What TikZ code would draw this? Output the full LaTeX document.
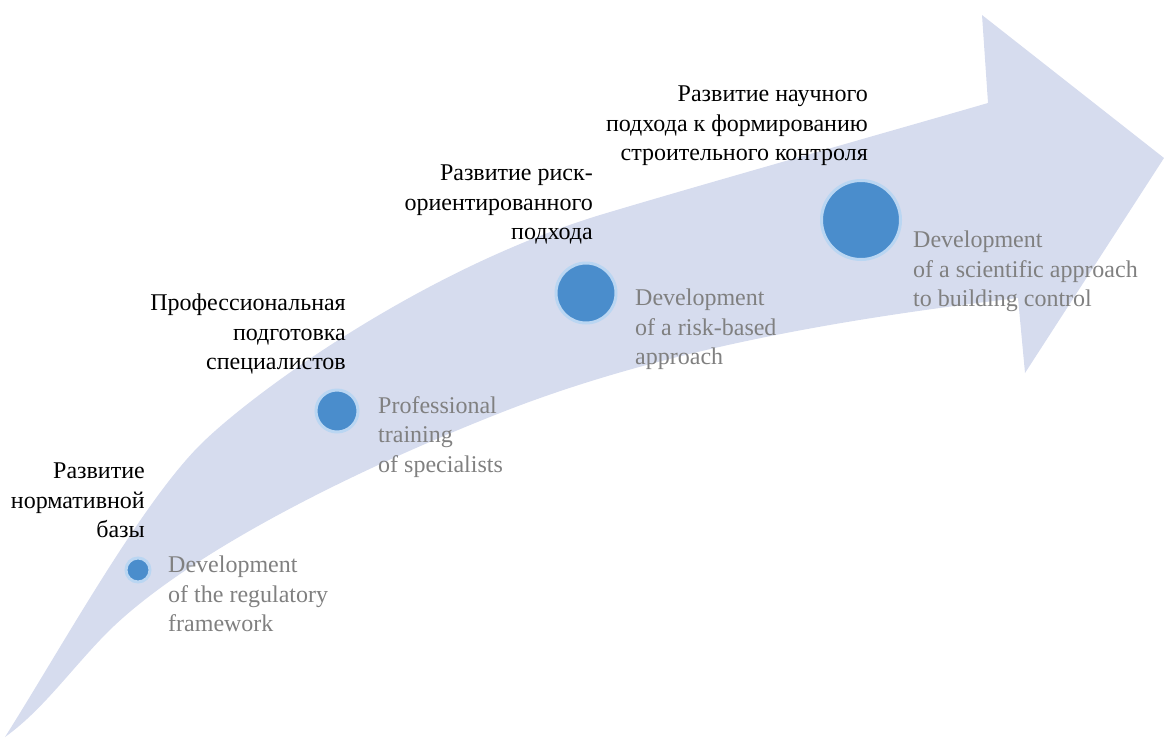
\documentclass[tikz,border=0pt]{standalone}
\usepackage{fontspec}
\setmainfont{Liberation Serif}
\usetikzlibrary{positioning}
\definecolor{bandblue}{RGB}{214,220,238}
\definecolor{dotblue}{RGB}{74,141,204}
\definecolor{haloblue}{RGB}{186,214,242}
\definecolor{enggray}{RGB}{128,128,128}
\tikzset{
  band/.style ={fill=bandblue},
  dot/.style  ={circle,fill=dotblue,draw=haloblue,line width=3pt,inner sep=0pt},
  rus/.style  ={align=right,inner sep=0pt,font=\rmfamily\fontsize{24}{29.5}\selectfont,text=black},
  eng/.style  ={align=left,inner sep=0pt,font=\rmfamily\fontsize{24}{29.5}\selectfont,text=enggray},
}
\begin{document}
\begin{tikzpicture}[x=1pt,y=-1pt]
  \useasboundingbox (0,0) rectangle (1164,740);
  % curved arrow
  \fill[band] (5,737) .. controls (60,650) and (140,505) .. (200,445)
    .. controls (250,395) and (420,270) .. (600,215)
    .. controls (700,185) and (860,140) .. (988,103)
    -- (982,15) -- (1164,158) -- (1025,373) -- (1018,298)
    .. controls (850,318) and (665,348) .. (500,413)
    .. controls (330,480) and (170,565) .. (100,640)
    .. controls (66,676) and (40,712) .. (5,737) -- cycle;
  % stages
  \node[dot,minimum size=24pt] (d1) at (138,570) {};
  \node[dot,minimum size=42pt] (d2) at (337,411) {};
  \node[dot,minimum size=60pt] (d3) at (586,293) {};
  \node[dot,minimum size=79pt] (d4) at (861,220) {};
  \node[rus,anchor=north east] (r1) at (145,463) {Развитие\\нормативной\\базы};
  \node[rus,anchor=north east] (r2) at (346,294) {Профессиональная\\подготовка\\специалистов};
  \node[rus,anchor=north east] (r3) at (593,165) {Развитие риск-\\ориентированного\\подхода};
  \node[rus,anchor=north east] (r4) at (868,86) {Развитие научного\\подхода к формированию\\строительного контроля};
  \node[eng,anchor=north west] (e1) at (168,556) {Development\\of the regulatory\\framework};
  \node[eng,anchor=north west] (e2) at (378,396) {Professional\\training\\of specialists};
  \node[eng,anchor=north west] (e3) at (635,289) {Development\\of a risk-based\\approach};
  \node[eng,anchor=north west] (e4) at (913,231) {Development\\of a scientific approach\\to building control};
\end{tikzpicture}
\end{document}
